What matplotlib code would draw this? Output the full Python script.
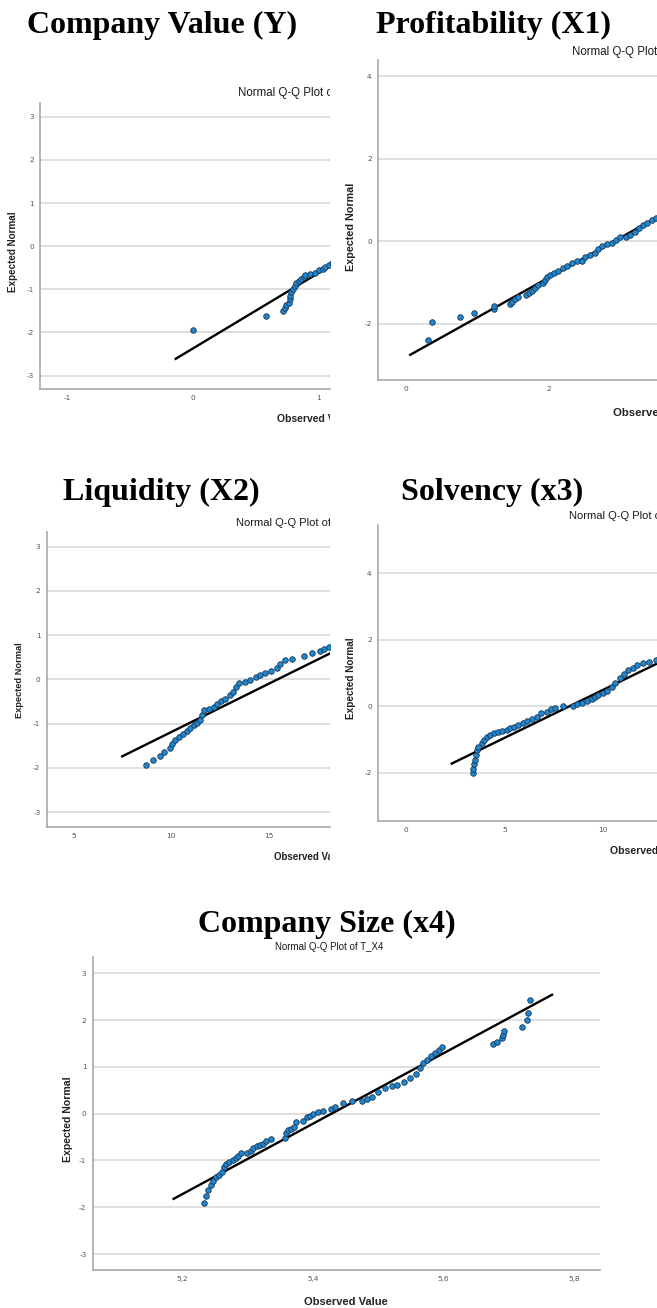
import matplotlib.pyplot as plt

plt.rcParams['axes.unicode_minus'] = False

W, H = 657, 1308

# panel headings (Word captions above each SPSS chart)
titles = ["Company Value (Y)", "Profitability (X1)", "Liquidity (X2)",
          "Solvency (x3)", "Company Size (x4)"]
qq_titles = ["Normal Q-Q Plot of T_Y", "Normal Q-Q Plot of T_X1",
             "Normal Q-Q Plot of T_X2", "Normal Q-Q Plot of T_X3",
             "Normal Q-Q Plot of T_X4"]

# Company Value (Y)
y_obs = [0.0, 0.58, 0.71, 0.73, 0.74, 0.76, 0.77, 0.77, 0.78, 0.79, 0.81, 0.82,
         0.84, 0.86, 0.88, 0.89, 0.93, 0.97, 1.0, 1.03, 1.05, 1.08, 1.1]
y_exp = [-1.94, -1.61, -1.51, -1.44, -1.36, -1.32, -1.23, -1.15, -1.07, -1.0, -0.92, -0.86,
         -0.80, -0.77, -0.72, -0.67, -0.64, -0.61, -0.56, -0.53, -0.49, -0.44, -0.4]
y_line_x = [-0.14, 1.3]
y_line_y = [-2.61, -0.09]

# Profitability (X1)
x1_obs = [0.31, 0.36, 0.76, 0.95, 1.23, 1.23, 1.45, 1.49, 1.52, 1.57, 1.68, 1.72, 1.76,
          1.80, 1.85, 1.91, 1.94, 1.97, 2.01, 2.07, 2.13, 2.19, 2.25, 2.32, 2.39, 2.46,
          2.50, 2.57, 2.64, 2.69, 2.74, 2.81, 2.88, 2.94, 2.99, 3.08, 3.13, 3.20, 3.26,
          3.32, 3.37, 3.44, 3.50]
x1_exp = [-2.39, -1.96, -1.84, -1.74, -1.65, -1.57, -1.52, -1.46, -1.40, -1.34, -1.30, -1.26,
          -1.20, -1.14, -1.06, -1.00, -0.94, -0.86, -0.82, -0.76, -0.71, -0.65, -0.60, -0.53,
          -0.49, -0.47, -0.37, -0.33, -0.28, -0.19, -0.11, -0.07, -0.03, 0.03, 0.10, 0.10,
          0.15, 0.22, 0.31, 0.39, 0.45, 0.52, 0.56]
x1_line_x = [0.06, 3.8]
x1_line_y = [-2.75, 0.86]

# Liquidity (X2)
x2_obs = [8.71, 9.07, 9.41, 9.62, 9.96, 10.05, 10.22, 10.39, 10.62, 10.82, 10.99, 11.16,
          11.34, 11.47, 11.59, 11.71, 11.93, 12.19, 12.37, 12.57, 12.79, 13.01, 13.19,
          13.36, 13.48, 13.82, 14.08, 14.34, 14.59, 14.85, 15.14, 15.42, 15.62, 15.88,
          16.22, 16.82, 17.25, 17.64, 17.85, 18.11]
x2_exp = [-1.94, -1.83, -1.73, -1.64, -1.54, -1.45, -1.36, -1.30, -1.24, -1.17, -1.09, -1.04,
          -0.99, -0.91, -0.81, -0.70, -0.67, -0.63, -0.55, -0.49, -0.44, -0.36, -0.29,
          -0.17, -0.08, -0.06, -0.01, 0.05, 0.11, 0.14, 0.19, 0.26, 0.34, 0.45,
          0.47, 0.54, 0.59, 0.64, 0.69, 0.73]
x2_line_x = [7.48, 18.5]
x2_line_y = [-1.74, 0.66]

# Solvency (x3)
x3_obs = [3.38, 3.41, 3.45, 3.50, 3.53, 3.58, 3.67, 3.84, 3.95, 4.09, 4.26, 4.46, 4.68,
          4.85, 5.10, 5.27, 5.47, 5.69, 5.91, 6.15, 6.37, 6.62, 6.83, 7.13, 7.33, 7.55,
          7.97, 8.48, 8.68, 8.90, 9.16, 9.41, 9.58, 9.75, 9.97, 10.20, 10.43, 10.59,
          10.85, 11.05, 11.27, 11.49, 11.73, 12.0, 12.33, 12.67]
x3_exp = [-2.01, -1.88, -1.75, -1.61, -1.48, -1.33, -1.23, -1.12, -1.02, -0.92, -0.86, -0.82,
          -0.78, -0.76, -0.72, -0.67, -0.62, -0.57, -0.52, -0.45, -0.40, -0.32, -0.22,
          -0.19, -0.10, -0.07, 0.0, 0.01, 0.05, 0.10, 0.16, 0.20, 0.26, 0.33, 0.40,
          0.46, 0.58, 0.70, 0.83, 0.98, 1.08, 1.16, 1.23, 1.29, 1.34, 1.39]
x3_line_x = [2.32, 13.0]
x3_line_y = [-1.73, 1.36]

# Company Size (x4)
x4_obs = [5.232, 5.235, 5.239, 5.243, 5.246, 5.251, 5.255, 5.260, 5.263, 5.267, 5.271,
          5.277, 5.282, 5.285, 5.289, 5.299, 5.304, 5.308, 5.314, 5.318, 5.323, 5.328,
          5.336, 5.357, 5.359, 5.362, 5.366, 5.370, 5.373, 5.385, 5.390, 5.395, 5.400,
          5.408, 5.415, 5.428, 5.433, 5.446, 5.459, 5.475, 5.483, 5.490, 5.500, 5.510,
          5.520, 5.529, 5.539, 5.548, 5.558, 5.564, 5.569, 5.574, 5.580, 5.587, 5.593,
          5.598, 5.675, 5.682, 5.690, 5.691, 5.693, 5.720, 5.728, 5.729, 5.733]
x4_exp = [-1.91, -1.76, -1.63, -1.52, -1.44, -1.36, -1.31, -1.24, -1.13, -1.07, -1.04,
          -1.00, -0.95, -0.90, -0.85, -0.83, -0.80, -0.73, -0.69, -0.66, -0.64, -0.59,
          -0.55, -0.52, -0.42, -0.35, -0.32, -0.28, -0.18, -0.15, -0.08, -0.05, 0.0,
          0.03, 0.05, 0.09, 0.14, 0.22, 0.26, 0.27, 0.31, 0.36, 0.47, 0.54,
          0.58, 0.61, 0.68, 0.76, 0.85, 0.97, 1.08, 1.15, 1.23, 1.29, 1.36,
          1.43, 1.48, 1.54, 1.61, 1.68, 1.77, 1.86, 1.99, 2.16, 2.43]
x4_line_x = [5.186, 5.766]
x4_line_y = [-1.82, 2.54]

obs = [y_obs, x1_obs, x2_obs, x3_obs, x4_obs]
exp = [y_exp, x1_exp, x2_exp, x3_exp, x4_exp]
line_x = [y_line_x, x1_line_x, x2_line_x, x3_line_x, x4_line_x]
line_y = [y_line_y, x1_line_y, x2_line_y, x3_line_y, x4_line_y]
xticks = [[-1, 0, 1], [0, 2], [5, 10, 15], [0, 5, 10], [5.2, 5.4, 5.6, 5.8]]
xticklabels = [["-1", "0", "1"], ["0", "2"], ["5", "10", "15"], ["0", "5", "10"],
               ["5,2", "5,4", "5,6", "5,8"]]
yticks = [[-3, -2, -1, 0, 1, 2, 3], [-2, 0, 2, 4], [-3, -2, -1, 0, 1, 2, 3],
          [-2, 0, 2, 4], [-3, -2, -1, 0, 1, 2, 3]]
xlims = [(-1.22, 1.088), (-0.39, 3.51), (3.6, 18.17), (-1.42, 12.72), (5.062, 5.84)]
ylims = [(-3.31, 3.32), (-3.36, 4.39), (-3.33, 3.34), (-3.45, 5.45), (-3.34, 3.34)]

# layout in pixels: axes box, clip frame, text anchors
axes_px = [(40, 103, 330, 389), (378, 60, 657, 380), (46.7, 531.7, 330, 826.7),
           (378, 525, 657, 820.7), (92.7, 957.3, 600.3, 1270)]
frame_px = [(0, 40, 330, 440), (335, 40, 657, 440), (0, 505, 330, 870),
            (335, 505, 657, 870), (0, 935, 657, 1308)]
title_px = [(162, 33.3), (493, 33), (161.5, 500), (492.5, 500), (326.5, 931.7)]
qq_px = [(238, 93, 'left'), (572, 52, 'left'), (236, 523, 'left'),
         (569, 516, 'left'), (329, 946.7, 'center')]
xlab_px = [(277, 419, 'left'), (613, 413, 'left'), (274, 856.7, 'left'),
           (610, 850.7, 'left'), (346, 1302, 'center')]
ylab_px = [(13, 252), (350.7, 226.7), (20, 680), (350.7, 678.3), (68, 1119.5)]
lab_size = [7.5, 8.2, 7.0, 7.6, 8.0]
qq_size = [8.3, 8.3, 8.0, 8.0, 7.0]

fig = plt.figure(figsize=(W / 100, H / 100), dpi=100)


def px_axes(x0, y0, x1, y1):
    return fig.add_axes([x0 / W, 1 - y1 / H, (x1 - x0) / W, (y1 - y0) / H])


for i in range(5):
    frame = px_axes(*frame_px[i])
    frame.set_axis_off()
    frame.patch.set_facecolor('none')

    tx, ty = title_px[i]
    fig.text(tx / W, 1 - ty / H, titles[i], family='Liberation Serif',
             weight='bold', size=23, ha='center', va='baseline')

    qx, qy, qha = qq_px[i]
    frame.text(qx / W, 1 - qy / H, qq_titles[i], transform=fig.transFigure,
               family='Liberation Sans', size=qq_size[i], color='#1a1a1a',
               ha=qha, va='center', clip_on=True)
    lx, ly, lha = xlab_px[i]
    frame.text(lx / W, 1 - ly / H, "Observed Value", transform=fig.transFigure,
               family='Liberation Sans', weight='bold', size=lab_size[i],
               color='#222222', ha=lha, va='center', clip_on=True)
    yx, yy = ylab_px[i]
    frame.text(yx / W, 1 - yy / H, "Expected Normal", transform=fig.transFigure,
               family='Liberation Sans', weight='bold', size=lab_size[i] * 0.95,
               color='#222222', ha='center', va='center', rotation=90, clip_on=True)

    ax = px_axes(*axes_px[i])
    ax.patch.set_facecolor('none')
    ax.set_xlim(*xlims[i])
    ax.set_ylim(*ylims[i])
    ax.set_xticks(xticks[i])
    ax.set_xticklabels(xticklabels[i])
    ax.set_yticks(yticks[i])
    ax.yaxis.grid(True, color='#d6d6d6', lw=1.1)
    ax.set_axisbelow(True)
    for s in ['top', 'right']:
        ax.spines[s].set_visible(False)
    for s in ['left', 'bottom']:
        ax.spines[s].set_color('#a8a8a8')
        ax.spines[s].set_linewidth(1.2)
    ax.tick_params(length=0, labelsize=5.3, colors='#555555', pad=4.5)
    ax.plot(line_x[i], line_y[i], color='black', lw=1.7, zorder=3)
    ax.scatter(obs[i], exp[i], s=16, color='#1f87d1', edgecolor='#1a3550',
               linewidth=0.6, zorder=4)

fig.savefig('out.png', dpi=100)
